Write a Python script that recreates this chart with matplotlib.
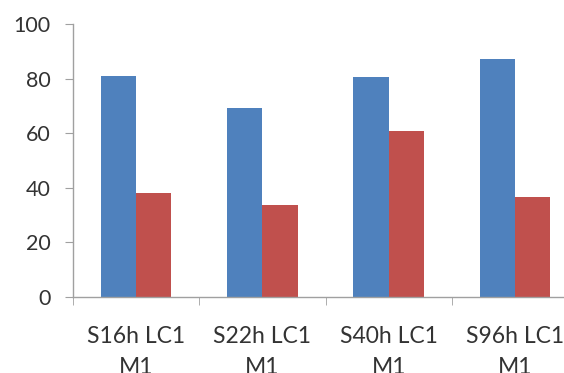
import matplotlib
matplotlib.use("Agg")
import matplotlib.pyplot as plt
import numpy as np

categories = ["S16h LC1\nM1", "S22h LC1\nM1", "S40h LC1\nM1", "S96h LC1\nM1"]
series_blue = [81.0, 69.2, 80.5, 87.1]
series_red = [38.2, 33.7, 60.8, 36.6]
yticks = [0, 20, 40, 60, 80, 100]

W, H = 564, 373
fig = plt.figure(figsize=(W / 100, H / 100), dpi=100)
x0, x1 = 73, 578
y0, y1 = 297, 24
ax = fig.add_axes([x0 / W, 1 - y0 / H, (x1 - x0) / W, (y0 - y1) / H])

x = np.arange(len(categories))
bw = 0.28
ax.bar(x - bw / 2, series_blue, width=bw, color="#4F81BD", zorder=2)
ax.bar(x + bw / 2, series_red, width=bw, color="#C0504D", zorder=2)

ax.set_xlim(-0.5, len(categories) - 0.5)
ax.set_ylim(0, 100)
ax.set_yticks(yticks)
ax.set_yticklabels([str(v) for v in yticks])

ax.set_xticks(x)
ax.set_xticklabels(categories)
ax.set_xticks(np.arange(len(categories) + 1) - 0.5, minor=True)
ax.tick_params(axis="x", which="major", length=0, pad=21)
ax.tick_params(axis="x", which="minor", length=6, color="#A0A0A0", direction="out")
ax.tick_params(axis="y", length=6, color="#A0A0A0", direction="out", pad=10)

for lab in ax.get_yticklabels():
    lab.set_fontfamily("Lato")
    lab.set_fontsize(15.5)
    lab.set_color("#333333")
for lab in ax.get_xticklabels():
    lab.set_fontfamily("Lato")
    lab.set_fontsize(16.5)
    lab.set_color("#333333")
    lab.set_linespacing(1.55)

for s in ["top", "right"]:
    ax.spines[s].set_visible(False)
for s in ["left", "bottom"]:
    ax.spines[s].set_color("#A0A0A0")
    ax.spines[s].set_linewidth(1.0)

fig.savefig("out.png", dpi=100)
